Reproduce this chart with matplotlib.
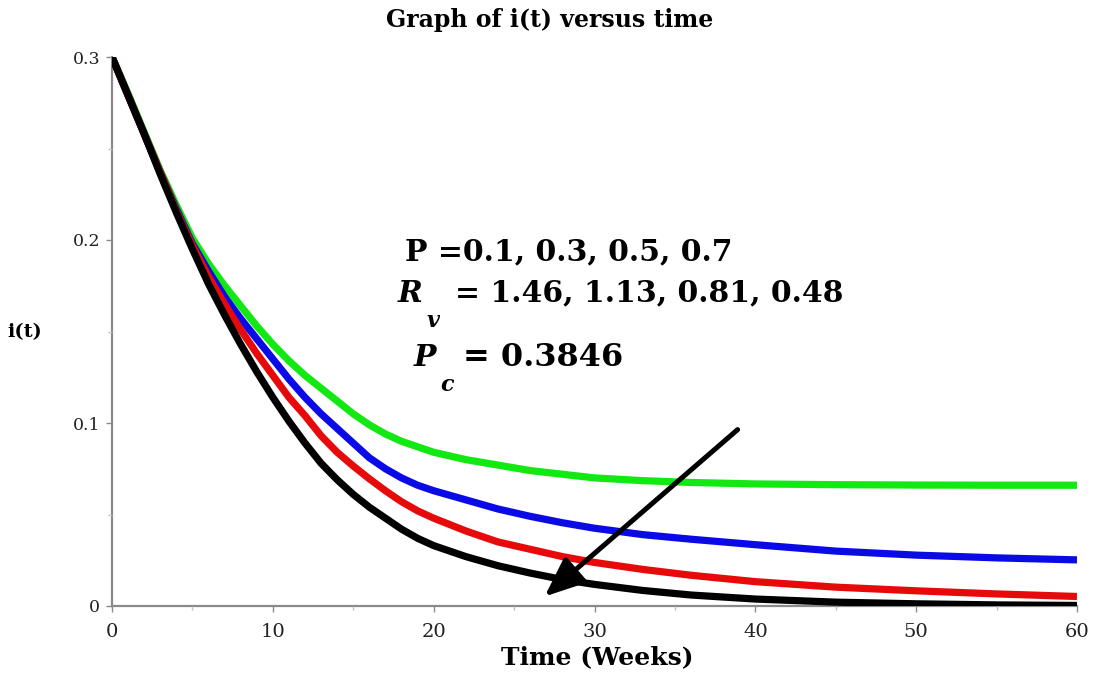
import numpy as np
import matplotlib.pyplot as plt

# время (недели) и значения i(t) для четырёх значений P
t = [0, 1, 2, 3, 4, 5, 6, 7, 8, 9, 10, 11, 12, 13, 14, 15, 16, 17, 18, 19, 20,
     22, 24, 26, 28, 30, 33, 36, 40, 45, 50, 55, 60]
i_p01 = [0.300, 0.280, 0.259, 0.238, 0.219, 0.201, 0.187, 0.175, 0.164, 0.153, 0.143,
         0.134, 0.126, 0.119, 0.112, 0.105, 0.099, 0.094, 0.090, 0.087, 0.084,
         0.080, 0.077, 0.074, 0.072, 0.070, 0.0685, 0.0675, 0.0667, 0.0663, 0.0661,
         0.0660, 0.0660]
i_p03 = [0.300, 0.279, 0.258, 0.237, 0.217, 0.198, 0.183, 0.169, 0.157, 0.146, 0.135,
         0.124, 0.114, 0.105, 0.097, 0.089, 0.081, 0.075, 0.070, 0.066, 0.063,
         0.058, 0.053, 0.049, 0.0455, 0.0425, 0.039, 0.0365, 0.0335, 0.0300, 0.0278,
         0.0263, 0.0252]
i_p05 = [0.300, 0.279, 0.258, 0.237, 0.216, 0.197, 0.180, 0.165, 0.151, 0.138, 0.126,
         0.114, 0.104, 0.093, 0.084, 0.0765, 0.0695, 0.063, 0.057, 0.052, 0.048,
         0.041, 0.035, 0.031, 0.027, 0.0238, 0.0200, 0.0168, 0.0133, 0.0103, 0.0083,
         0.0066, 0.0052]
i_p07 = [0.300, 0.279, 0.258, 0.236, 0.215, 0.195, 0.176, 0.159, 0.143, 0.128, 0.114,
         0.101, 0.089, 0.078, 0.069, 0.061, 0.054, 0.048, 0.042, 0.037, 0.033,
         0.027, 0.022, 0.018, 0.0145, 0.0118, 0.0085, 0.0060, 0.0038, 0.0021, 0.0012,
         0.0006, 0.0003]

serif = 'DejaVu Serif'
W, H = 1097, 675

fig = plt.figure(figsize=(W / 100, H / 100), dpi=100)
ax = fig.add_axes([112 / W, 1 - 606 / H, (1077 - 112) / W, (606 - 57) / H])

lw = 5.2
ax.plot(t, i_p01, color='#12e812', lw=lw, solid_capstyle='butt', solid_joinstyle='round')
ax.plot(t, i_p03, color='#0a0ae6', lw=lw, solid_capstyle='butt', solid_joinstyle='round')
ax.plot(t, i_p05, color='#e60a0a', lw=lw, solid_capstyle='butt', solid_joinstyle='round')
ax.plot(t, i_p07, color='black', lw=lw, solid_capstyle='butt', solid_joinstyle='round')

ax.set_xlim(0, 60)
ax.set_ylim(0, 0.3)
ax.set_xticks([0, 10, 20, 30, 40, 50, 60])
ax.set_xticks([5, 15, 25, 35, 45, 55], minor=True)
ax.set_yticks([0, 0.1, 0.2, 0.3])
ax.set_yticklabels(['0', '0.1', '0.2', '0.3'])
ax.set_yticks([0.05, 0.15, 0.25], minor=True)

for s in ['top', 'right']:
    ax.spines[s].set_visible(False)
for s in ['left', 'bottom']:
    ax.spines[s].set_color('#8a8a8a')
    ax.spines[s].set_linewidth(1.6)
    ax.spines[s].set_zorder(0)

ax.tick_params(axis='both', which='major', length=4.5, width=1, color='#8a8a8a',
               labelcolor='#222222')
ax.tick_params(axis='both', which='minor', length=3, width=1, color='#c0c0c0')
ax.tick_params(axis='x', labelsize=14, pad=8)
ax.tick_params(axis='y', labelsize=12.5, pad=4)
for lab in ax.get_xticklabels() + ax.get_yticklabels():
    lab.set_family(serif)

fig.text(550 / W, 1 - 20 / H, 'Graph of i(t) versus time', family=serif,
         weight='bold', fontsize=17, ha='center', va='center')
fig.text(597 / W, 1 - 657 / H, 'Time (Weeks)', family=serif,
         weight='bold', fontsize=18, ha='center', va='center')
fig.text(25 / W, 1 - 332 / H, 'i(t)', family=serif,
         weight='bold', fontsize=14, ha='center', va='center')

# подписи параметров
big = 21.5
fig.text(405 / W, 1 - 252 / H, 'P =0.1, 0.3, 0.5, 0.7', family=serif,
         weight='bold', fontsize=big, ha='left', va='center')
fig.text(398 / W, 1 - 293 / H, 'R', family=serif, weight='bold', style='italic',
         fontsize=big, ha='left', va='center')
fig.text(427 / W, 1 - 321 / H, 'v', family=serif, weight='bold', style='italic',
         fontsize=16, ha='left', va='center')
fig.text(455 / W, 1 - 293 / H, '= 1.46, 1.13, 0.81, 0.48', family=serif,
         weight='bold', fontsize=big, ha='left', va='center')
fig.text(414 / W, 1 - 357 / H, 'P', family=serif, weight='bold', style='italic',
         fontsize=big, ha='left', va='center')
fig.text(440 / W, 1 - 385 / H, 'c', family=serif, weight='bold', style='italic',
         fontsize=16, ha='left', va='center')
fig.text(463 / W, 1 - 357 / H, '= 0.3846', family=serif,
         weight='bold', fontsize=big + 1.5, ha='left', va='center')

# стрелка в сторону роста P
ax.annotate('', xy=(26.9, 0.0052), xytext=(38.9, 0.0964),
            arrowprops=dict(arrowstyle='-|>,head_length=2.4,head_width=1.0',
                            color='black', lw=3.6, shrinkA=0, shrinkB=0),
            zorder=5)

fig.savefig('out.png', dpi=100)
